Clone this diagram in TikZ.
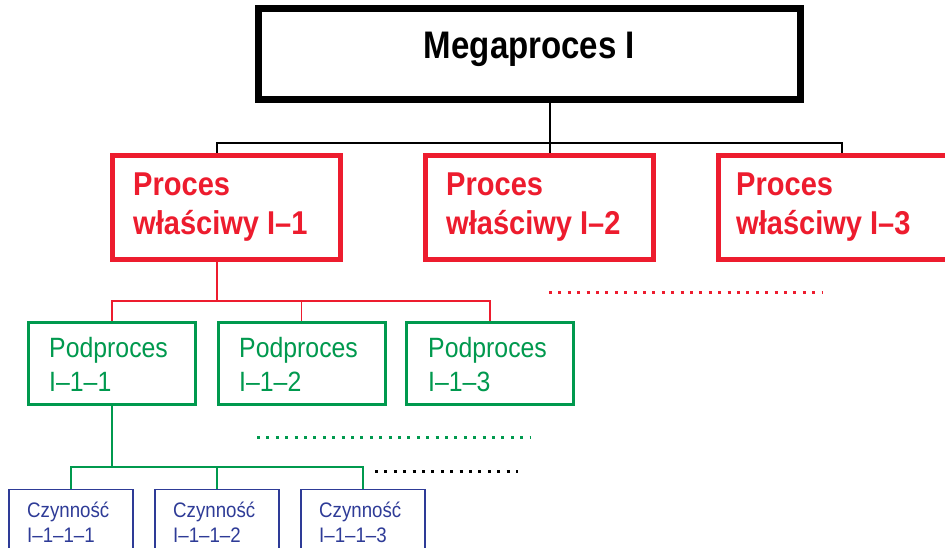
\documentclass[tikz,border=0pt]{standalone}
\usepackage{fontspec}
\setmainfont{Liberation Sans}
\newfontfamily\regfam{Liberation Sans}[FakeStretch=0.89]
\newfontfamily\boldfam{Liberation Sans}[FakeStretch=0.86]
\newfontfamily\procfam{Liberation Sans}[FakeStretch=0.88]
\definecolor{procred}{HTML}{ED1C2E}
\definecolor{subgreen}{HTML}{00994E}
\definecolor{actblue}{HTML}{2E3B97}
\tikzset{
  box/.style={draw, rectangle, inner sep=0pt},
  megabox/.style={box, line width=7pt, minimum width=542pt, minimum height=91pt},
  procbox/.style={box, draw=procred, line width=5pt, minimum width=228pt, minimum height=104pt},
  subbox/.style={box, draw=subgreen, line width=3pt, minimum width=167pt, minimum height=82pt},
  actbox/.style={box, draw=actblue, line width=1.6pt, minimum width=124.4pt, minimum height=80pt},
  megatext/.style={font=\boldfam\bfseries\fontsize{38.4}{40}\selectfont, inner sep=0pt, anchor=base},
  proctext/.style={font=\procfam\bfseries\fontsize{33}{35}\selectfont, text=procred, inner sep=0pt, anchor=base west},
  subtext/.style={font=\regfam\fontsize{27.9}{30}\selectfont, text=subgreen, inner sep=0pt, anchor=base west},
  acttext/.style={font=\regfam\fontsize{21}{23}\selectfont, text=actblue, inner sep=0pt, anchor=base west},
  conn/.style={line width=1.5pt},
  redconn/.style={line width=1.3pt, draw=procred},
  greenconn/.style={line width=1.3pt, draw=subgreen},
  dotrow/.style={line width=3pt, dash pattern=on 3pt off 6.4pt},
}
\begin{document}
\begin{tikzpicture}[x=1pt, y=-1pt]
\useasboundingbox[fill=white] (0,0) rectangle (945,548);

% tap points on the buses
\coordinate (j0) at (550,143);
\coordinate (t1) at (217,0);
\coordinate (t3) at (842,0);
\coordinate (j1) at (217,301);
\coordinate (j2) at (112,467);

% level 0
\node[megabox] (mega) at (529.5,54) {};
\node[megatext] (megat) at (529.5,59) {Megaproces I};

% level 1
\node[procbox] (r1) at (226.5,207.5) {};
\node[procbox] (r2) at (539,207.5) {};
\node[procbox, minimum width=240pt, anchor=west] (r3) at (715.5,207.5) {};
\node[proctext] (r1a) at (133,196) {Proces};
\node[proctext] (r1b) at (133,235) {właściwy I–1};
\node[proctext] (r2a) at (446,196) {Proces};
\node[proctext] (r2b) at (446,235) {właściwy I–2};
\node[proctext] (r3a) at (736,196) {Proces};
\node[proctext] (r3b) at (736,235) {właściwy I–3};

% level 2
\node[subbox] (g1) at (112,363.5) {};
\node[subbox] (g2) at (301.5,363.5) {};
\node[subbox] (g3) at (490,363.5) {};
\node[subtext] (g1a) at (49,357) {Podproces};
\node[subtext] (g1b) at (49,391) {I–1–1};
\node[subtext] (g2a) at (239,357) {Podproces};
\node[subtext] (g2b) at (239,391) {I–1–2};
\node[subtext] (g3a) at (428,357) {Podproces};
\node[subtext] (g3b) at (428,391) {I–1–3};

% level 3
\node[actbox, anchor=north] (b1) at (71,488.8) {};
\node[actbox, anchor=north] (b2) at (217,488.8) {};
\node[actbox, anchor=north] (b3) at (363,488.8) {};
\node[acttext] (b1a) at (27,517) {Czynność};
\node[acttext] (b1b) at (27,542) {I–1–1–1};
\node[acttext] (b2a) at (173,517) {Czynność};
\node[acttext] (b2b) at (173,542) {I–1–1–2};
\node[acttext] (b3a) at (319,517) {Czynność};
\node[acttext] (b3b) at (319,542) {I–1–1–3};

% megaprocess -> processes
\draw[conn] (mega.south -| j0) -- (j0);
\draw[conn] (t1 |- r1.north) |- (j0) -| (t3 |- r3.north);
\draw[conn] (j0) -- (r2.north -| j0);
% process I-1 -> subprocesses
\draw[redconn] (r1.south -| j1) -- (j1);
\draw[redconn] (g1.north) |- (j1) -| (g3.north);
\draw[redconn] (j1 -| g2.north) -- (g2.north);
% subprocess I-1-1 -> activities
\draw[greenconn] (g1.south) -- (j2);
\draw[greenconn] (b1.north) |- (j2) -| (b3.north);
\draw[greenconn] (j2 -| b2.north) -- (b2.north);

% continuation dots
\draw[dotrow, draw=procred] (549,292) -- (822,292);
\draw[dotrow, draw=subgreen] (257,437) -- (531,437);
\draw[dotrow, draw=black] (375,471) -- (518,471);
\end{tikzpicture}
\end{document}
